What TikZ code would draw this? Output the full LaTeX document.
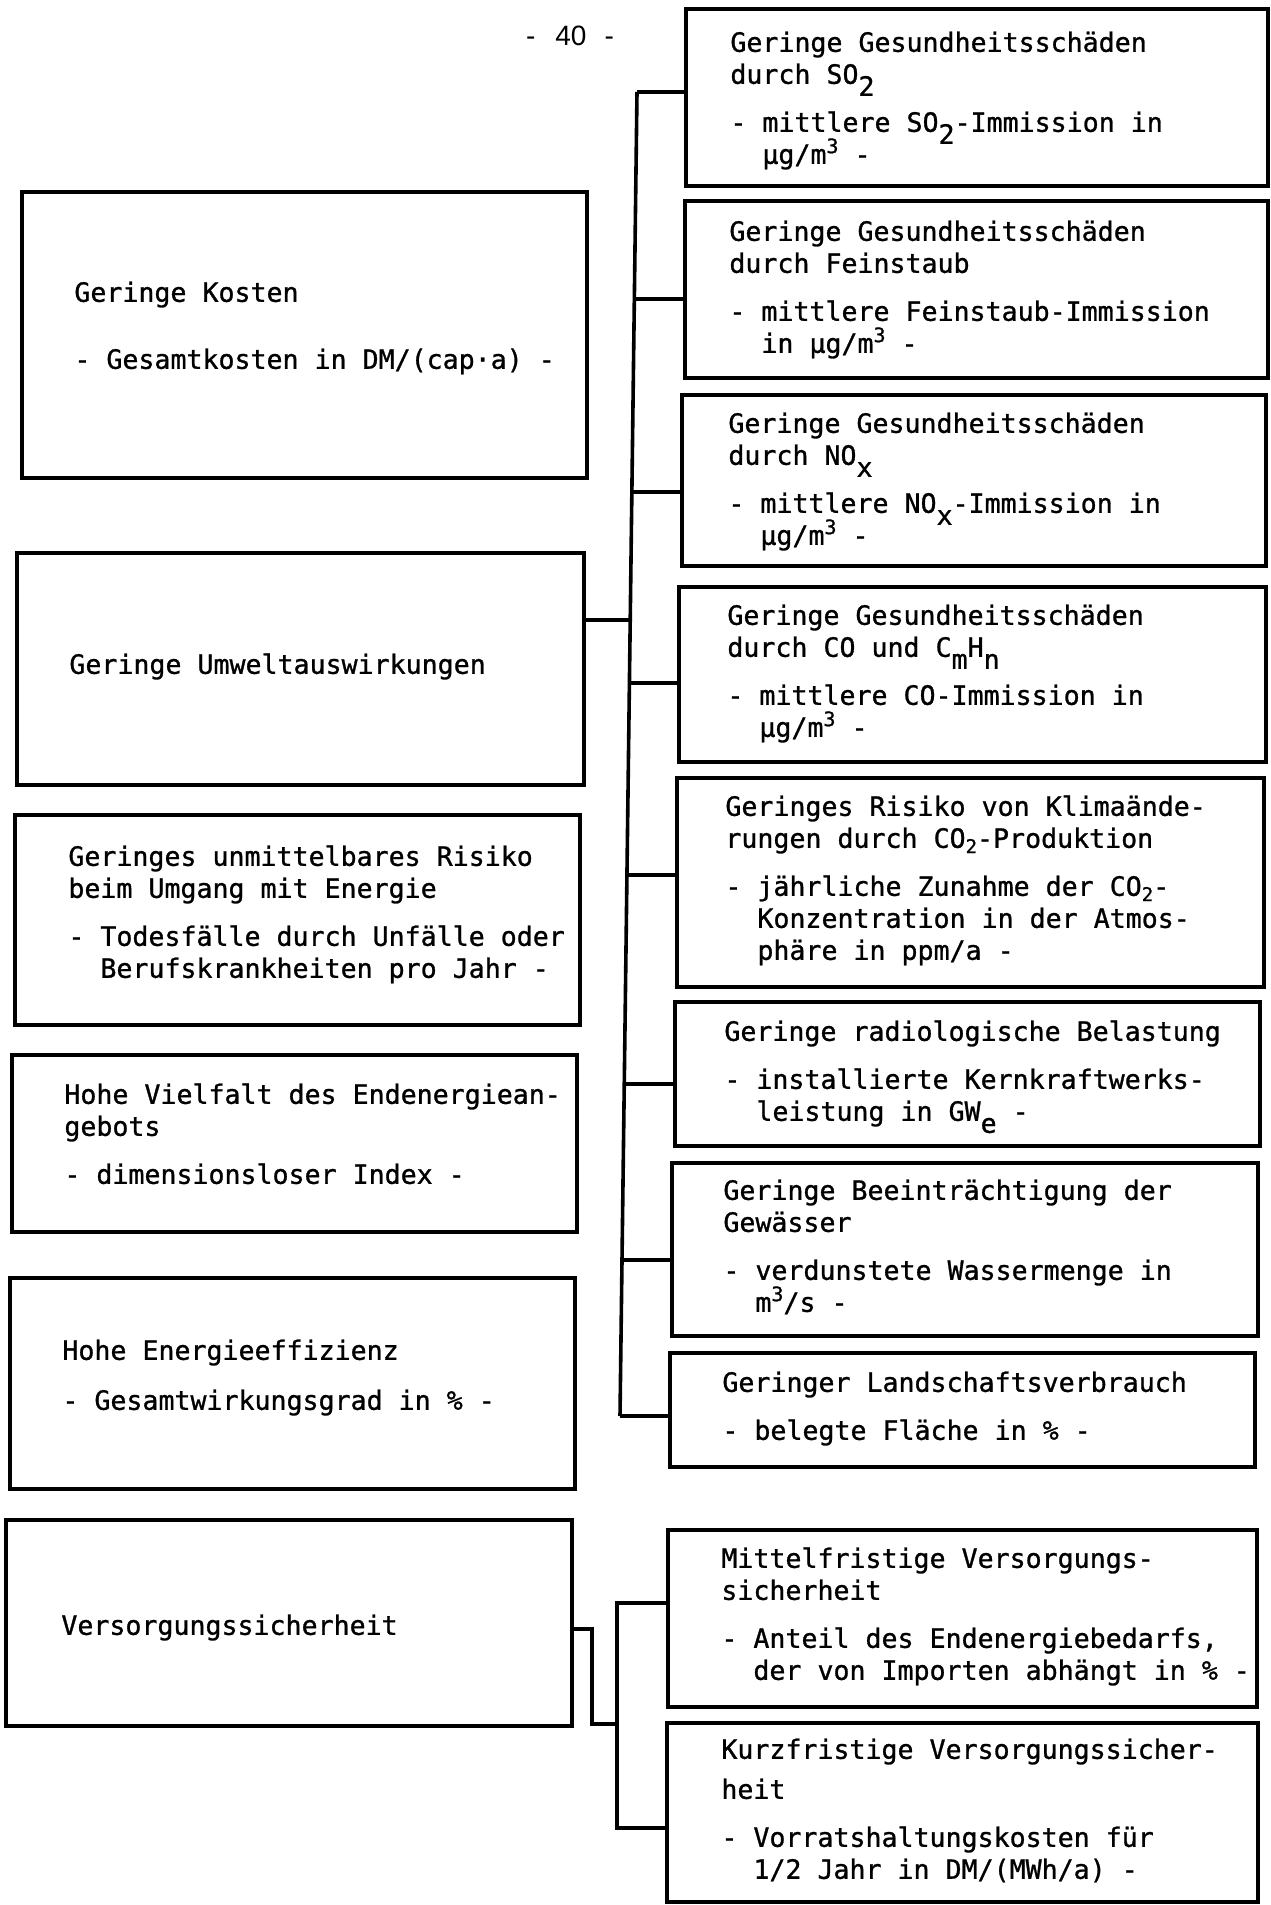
\documentclass[tikz,border=0pt]{standalone}
\usepackage{fontspec}
\newfontfamily\tw{DejaVu Sans Mono}[FakeBold=1]
\newfontfamily\hdr{Liberation Sans}
\usetikzlibrary{calc}

% lowered full-size index, small lowered index, small raised exponent (no effect on line spacing)
\newcommand\tief[1]{\raisebox{-0.45em}[0pt][0pt]{#1}}
\newcommand\klein[1]{\raisebox{-0.2em}[0pt][0pt]{\fontsize{9.5}{9.5}\selectfont #1}}
\newcommand\hoch[1]{\raisebox{0.4em}[0pt][0pt]{\fontsize{10}{10}\selectfont #1}}
% hanging indent under "- "
\newcommand\einr{\hphantom{- }}
% framed box: name, left, top, width, height (in px units)
\newcommand\kasten[5]{\node[rahmen, minimum width=#4*0.5pt, minimum height=#5*0.5pt] (#1) at (#2,#3) {};}

\begin{document}
\begin{tikzpicture}[x=0.5pt, y=-0.5pt,
  rahmen/.style={draw, line width=2.2pt, anchor=north west, inner sep=0pt, outer sep=0pt},
  txt/.style={anchor=north west, inner sep=0pt, align=left, font=\tw\fontsize{13.3}{16}\selectfont},
  verb/.style={line width=1.8pt}]
\useasboundingbox (0,0) rectangle (1270,1905);

% page number
\node[font=\hdr\fontsize{14}{16}\selectfont] (seite) at (570,36) {-\hspace{10pt}40\hspace{9pt}-};

% right column: sub-criteria
\kasten{so2}{686}{9}{582}{177}
\kasten{fein}{685}{201}{583}{177}
\kasten{nox}{682}{395}{584}{171}
\kasten{co}{679}{587}{587}{175}
\kasten{klima}{677}{778}{587}{209}
\kasten{radio}{675}{1002}{585}{144}
\kasten{gew}{672}{1163}{586}{173}
\kasten{land}{670}{1353}{585}{114}
\kasten{mittel}{668}{1530}{589}{177}
\kasten{kurz}{667}{1723}{591}{179}

% left column: main criteria
\kasten{kosten}{22}{192}{565}{286}
\kasten{umwelt}{17}{553}{567}{232}
\kasten{risiko}{15}{815}{565}{210}
\kasten{vielfalt}{12}{1055}{565}{177}
\kasten{eff}{10}{1278}{565}{211}
\kasten{vers}{6}{1520}{566}{206}

% texts, right column
\node[txt] (so2t) at (730,29) {\strut Geringe Gesundheitsschäden\\durch SO\tief{2}\\[8pt]- mittlere SO\tief{2}-Immission in\\\einr µg/m\hoch{3} -};
\node[txt] (feint) at (729,218) {\strut Geringe Gesundheitsschäden\\durch Feinstaub\\[8pt]- mittlere Feinstaub-Immission\\\einr in µg/m\hoch{3} -};
\node[txt] (noxt) at (728,410) {\strut Geringe Gesundheitsschäden\\durch NO\tief{x}\\[8pt]- mittlere NO\tief{x}-Immission in\\\einr µg/m\hoch{3} -};
\node[txt] (cot) at (727,602) {\strut Geringe Gesundheitsschäden\\durch CO und C\tief{m}H\tief{n}\\[8pt]- mittlere CO-Immission in\\\einr µg/m\hoch{3} -};
\node[txt] (klimat) at (725,793) {\strut Geringes Risiko von Klimaände-\\rungen durch CO\klein{2}-Produktion\\[8pt]- jährliche Zunahme der CO\klein{2}-\\\einr Konzentration in der Atmos-\\\einr phäre in ppm/a -};
\node[txt] (radiot) at (724,1018) {\strut Geringe radiologische Belastung\\[8pt]- installierte Kernkraftwerks-\\\einr leistung in GW\tief{e} -};
\node[txt] (gewt) at (723,1177) {\strut Geringe Beeinträchtigung der\\Gewässer\\[8pt]- verdunstete Wassermenge in\\\einr m\hoch{3}/s -};
\node[txt] (landt) at (722,1369) {\strut Geringer Landschaftsverbrauch\\[8pt]- belegte Fläche in \% -};
\node[txt] (mittelt) at (721,1545) {\strut Mittelfristige Versorgungs-\\sicherheit\\[8pt]- Anteil des Endenergiebedarfs,\\\einr der von Importen abhängt in \% -};
\node[txt] (kurzt) at (721,1736) {\strut Kurzfristige Versorgungssicher-\\[4pt]heit\\[8pt]- Vorratshaltungskosten für\\\einr 1/2 Jahr in DM/(MWh/a) -};

% texts, left column
\node[txt] (kostent) at (74,279) {\strut Geringe Kosten\\[17.5pt]- Gesamtkosten in DM/(cap·a) -};
\node[txt] (umweltt) at (69,651) {\strut Geringe Umweltauswirkungen};
\node[txt] (risikot) at (68,843) {\strut Geringes unmittelbares Risiko\\beim Umgang mit Energie\\[8pt]- Todesfälle durch Unfälle oder\\\einr Berufskrankheiten pro Jahr -};
\node[txt] (vielfaltt) at (64,1081) {\strut Hohe Vielfalt des Endenergiean-\\gebots\\[8pt]- dimensionsloser Index -};
\node[txt] (efft) at (62,1337) {\strut Hohe Energieeffizienz\\[9pt]- Gesamtwirkungsgrad in \% -};
\node[txt] (verst) at (61,1612) {\strut Versorgungssicherheit};

% trunk of the environmental criteria
\coordinate (t1) at (637,92);
\coordinate (t2) at (634.3,299);
\coordinate (t3) at (631.9,492);
\coordinate (u)  at (630.2,620);
\coordinate (t4) at (629.4,683);
\coordinate (t5) at (626.9,875);
\coordinate (t6) at (624.3,1084);
\coordinate (t7) at (622,1260);
\coordinate (t8) at (620,1416);
\draw[verb] (t1) -- (t8);
\draw[verb] (u -| umwelt.east) -- (u);
\draw[verb] (t1) -- (t1 -| so2.west);
\draw[verb] (t2) -- (t2 -| fein.west);
\draw[verb] (t3) -- (t3 -| nox.west);
\draw[verb] (t4) -- (t4 -| co.west);
\draw[verb] (t5) -- (t5 -| klima.west);
\draw[verb] (t6) -- (t6 -| radio.west);
\draw[verb] (t7) -- (t7 -| gew.west);
\draw[verb] (t8) -- (t8 -| land.west);

% supply security branches
\coordinate (va) at (592,1629);
\coordinate (vb) at (617,1724);
\coordinate (s1) at (617,1603);
\coordinate (s2) at (617,1828);
\draw[verb] (va -| vers.east) -- (va) |- (vb);
\draw[verb] (s1 -| mittel.west) -- (s1) -- (s2) -- (s2 -| kurz.west);
\end{tikzpicture}
\end{document}
